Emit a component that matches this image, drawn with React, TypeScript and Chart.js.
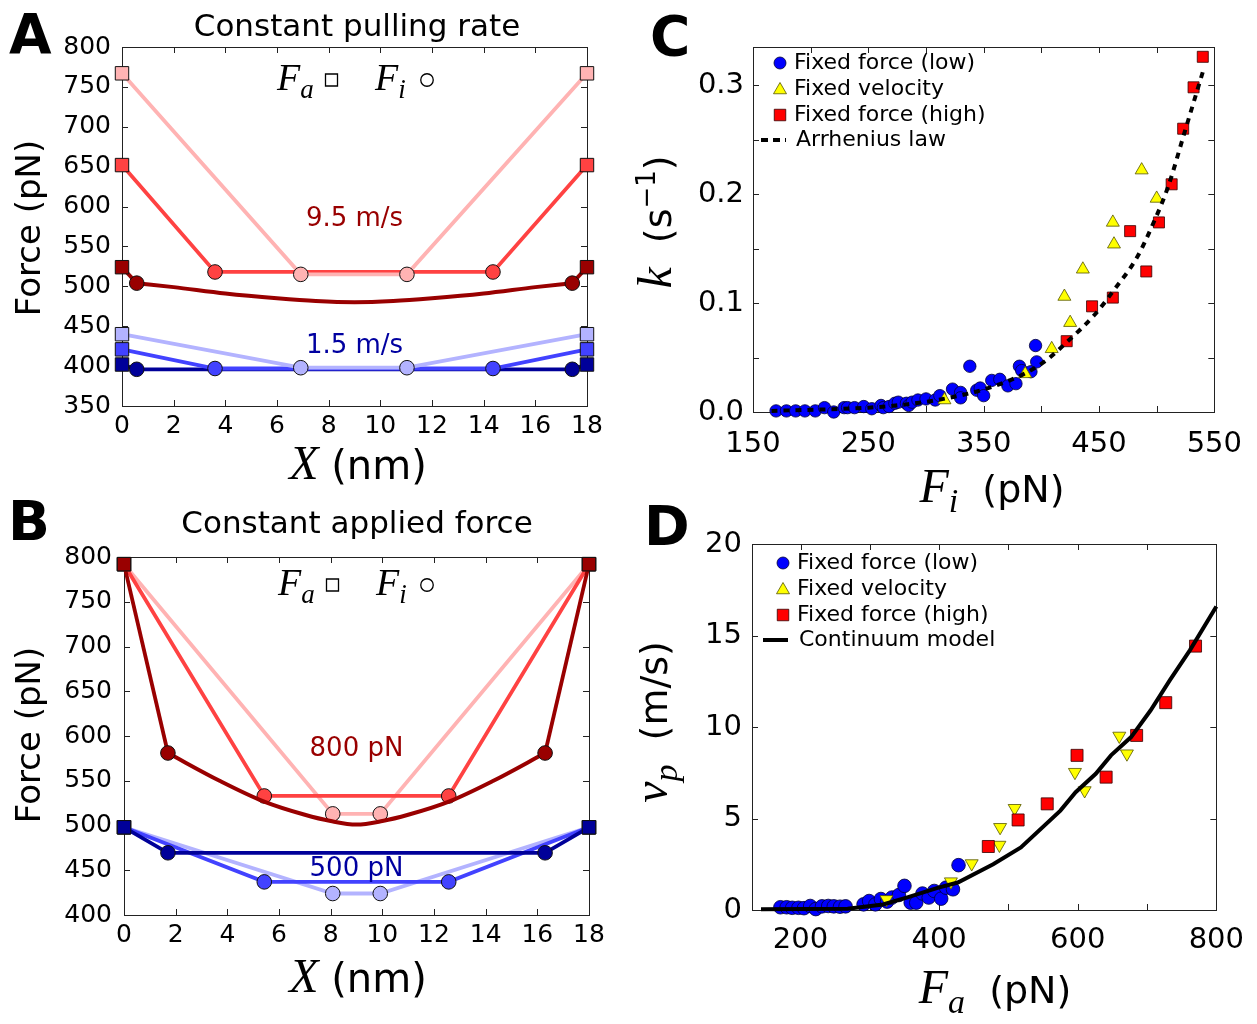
import React, { useEffect, useRef } from 'react';
import { Chart, registerables } from 'chart.js';
Chart.register(...registerables);

const SANS = "'DejaVu Sans', sans-serif";
const SERIF = "'Liberation Serif', 'DejaVu Serif', serif";

const PINK = '#ffb3b3';
const RED = '#ff4242';
const DARKRED = '#990000';
const LBLUE = '#b3b3ff';
const BLUE = '#4242ff';
const NAVY = '#000099';

// ---------------- Panel A: constant pulling rate ----------------
const aPinkX = [0, 6.92, 11.03, 18];
const aPinkF = [767, 515, 515, 767];
const aRedX = [0, 3.6, 14.36, 18];
const aRedF = [652, 518, 518, 652];
const aDarkX = [0, 0.57, 17.43, 18];
const aDarkF = [524, 504, 504, 524];
const aDarkCurveX = [0.57, 2, 4, 6, 7.5, 9, 10.5, 12, 14, 16, 17.43];
const aDarkCurveF = [504, 499, 491, 485, 481.5, 480, 481.5, 485, 491, 499, 504];
const aLightBlueX = [0, 6.92, 11.03, 18];
const aLightBlueF = [440, 398, 398, 440];
const aBlueX = [0, 3.6, 14.36, 18];
const aBlueF = [421, 397, 397, 421];
const aNavyX = [0, 0.57, 17.43, 18];
const aNavyF = [402, 396, 396, 402];

// ---------------- Panel B: constant applied force ----------------
const bPinkX = [0, 8.08, 9.92, 18];
const bPinkF = [792, 513, 513, 792];
const bRedX = [0, 5.43, 12.57, 18];
const bRedF = [792, 533, 533, 792];
const bDarkX = [0, 1.7, 16.3, 18];
const bDarkF = [792, 581, 581, 792];
const bDarkCurveX = [1.7, 3.7, 5.4, 7, 8, 9, 10, 11, 12.6, 14.3, 16.3];
const bDarkCurveF = [581, 550, 527, 512, 505, 501, 505, 512, 527, 550, 581];
const bLightBlueX = [0, 8.08, 9.92, 18];
const bLightBlueF = [498, 424, 424, 498];
const bBlueX = [0, 5.43, 12.57, 18];
const bBlueF = [498, 437, 437, 498];
const bNavyX = [0, 1.7, 16.3, 18];
const bNavyF = [498, 469.5, 469.5, 498];

// ---------------- Panel C: rate vs Fi ----------------
const cLowF = [170, 179, 187, 195, 204, 212, 220, 229, 232, 238, 246, 253, 261, 263, 268, 273, 276, 283, 285, 288, 293, 300, 308, 312, 323, 330, 330, 338, 344, 347, 350, 357, 364, 371, 378, 381, 383, 391, 395, 396];
const cLowK = [0.001, 0.001, 0.001, 0.001, 0.001, 0.004, 0.0, 0.004, 0.004, 0.004, 0.005, 0.003, 0.006, 0.004, 0.005, 0.008, 0.009, 0.008, 0.006, 0.009, 0.011, 0.012, 0.011, 0.015, 0.021, 0.018, 0.013, 0.042, 0.02, 0.022, 0.015, 0.029, 0.03, 0.024, 0.026, 0.042, 0.038, 0.037, 0.061, 0.046];
const cVelF = [316, 386, 409, 420, 425, 436, 462, 463, 487, 500];
const cVelK = [0.011, 0.035, 0.058, 0.106, 0.082, 0.131, 0.174, 0.154, 0.222, 0.196];
const cHighF = [422, 444, 462, 477, 491, 502, 513, 523, 532, 540];
const cHighK = [0.065, 0.097, 0.105, 0.166, 0.129, 0.174, 0.209, 0.26, 0.298, 0.326];
const cArrF = [166, 250, 283, 310, 351, 385, 405, 422, 446, 463, 483, 497, 510, 524, 540];
const cArrK = [0.001, 0.004, 0.007, 0.011, 0.021, 0.035, 0.048, 0.064, 0.089, 0.112, 0.142, 0.173, 0.207, 0.256, 0.312];

// ---------------- Panel D: velocity vs Fa ----------------
const dLowF = [171, 180, 188, 197, 205, 214, 222, 231, 240, 248, 257, 265, 291, 299, 308, 316, 325, 332, 342, 350, 359, 367, 376, 385, 393, 403, 410, 420, 428];
const dLowV = [0.15, 0.15, 0.12, 0.12, 0.1, 0.22, 0.05, 0.2, 0.22, 0.2, 0.18, 0.2, 0.31, 0.49, 0.31, 0.6, 0.46, 0.68, 0.82, 1.32, 0.4, 0.4, 0.9, 0.68, 1.04, 0.62, 1.22, 1.13, 2.45];
const dVelF = [324, 417, 447, 487, 488, 509, 596, 610, 660, 671];
const dVelV = [0.58, 1.55, 2.54, 3.55, 4.52, 5.56, 7.53, 6.53, 9.51, 8.54];
const dHighF = [471, 514, 556, 599, 641, 685, 727, 770];
const dHighV = [3.47, 4.92, 5.8, 8.45, 7.26, 9.54, 11.33, 14.42];
const dModelF = [143, 268, 319, 353, 399, 427, 478, 518, 575, 597, 626, 648, 677, 705, 733, 762, 800];
const dModelV = [0.04, 0.07, 0.3, 0.68, 1.22, 1.5, 2.5, 3.42, 5.43, 6.44, 7.44, 8.45, 9.45, 10.9, 12.56, 14.2, 16.58];

const legendLabels = ['Fixed force (low)', 'Fixed velocity', 'Fixed force (high)'];

type Seg = { t: string; f: string; dy?: number };

function drawRich(ctx: CanvasRenderingContext2D, segs: Seg[], x: number, y: number, align: 'left' | 'center' = 'left', color = '#000', rot = 0) {
  ctx.save();
  ctx.translate(x, y);
  if (rot) ctx.rotate(rot);
  ctx.fillStyle = color;
  ctx.textBaseline = 'alphabetic';
  ctx.textAlign = 'left';
  let w = 0;
  for (const s of segs) { ctx.font = s.f; w += ctx.measureText(s.t).width; }
  let cx = align === 'center' ? -w / 2 : 0;
  for (const s of segs) { ctx.font = s.f; ctx.fillText(s.t, cx, s.dy || 0); cx += ctx.measureText(s.t).width; }
  ctx.restore();
}

function marker(ctx: CanvasRenderingContext2D, kind: string, x: number, y: number, size: number, fill: string, stroke = '#111', lw = 1) {
  ctx.save();
  ctx.beginPath();
  if (kind === 'circle') ctx.arc(x, y, size / 2, 0, Math.PI * 2);
  else if (kind === 'square') ctx.rect(x - size / 2, y - size / 2, size, size);
  else {
    const h = size * Math.sqrt(3) / 2;
    ctx.moveTo(x, y - h * 2 / 3);
    ctx.lineTo(x + size / 2, y + h / 3);
    ctx.lineTo(x - size / 2, y + h / 3);
    ctx.closePath();
  }
  ctx.fillStyle = fill; ctx.fill();
  ctx.strokeStyle = stroke; ctx.lineWidth = lw; ctx.stroke();
  ctx.restore();
}

const frameTicks = {
  id: 'frameTicks',
  beforeDatasetsDraw(chart: any) {
    const { ctx, chartArea: a } = chart;
    const xs = chart.scales.x, ys = chart.scales.y;
    const L = 6;
    ctx.save();
    ctx.strokeStyle = '#222';
    ctx.lineWidth = 1;
    ctx.beginPath();
    for (const t of xs.ticks) {
      const p = Math.round(xs.getPixelForValue(t.value)) + 0.5;
      ctx.moveTo(p, a.bottom); ctx.lineTo(p, a.bottom - L);
      ctx.moveTo(p, a.top); ctx.lineTo(p, a.top + L);
    }
    for (const t of ys.ticks) {
      const p = Math.round(ys.getPixelForValue(t.value)) + 0.5;
      ctx.moveTo(a.left, p); ctx.lineTo(a.left + L, p);
      ctx.moveTo(a.right, p); ctx.lineTo(a.right - L, p);
    }
    ctx.stroke();
    ctx.strokeRect(Math.round(a.left) + 0.5, Math.round(a.top) + 0.5, Math.round(a.right - a.left), Math.round(a.bottom - a.top));
    ctx.restore();
  },
};

function pts(xs: number[], ys: number[]) { return xs.map((x, i) => ({ x, y: ys[i] })); }

const EDGE = ['rect', 'circle', 'circle', 'rect'];

function lineSet(xs: number[], ys: number[], color: string, extra: any = {}) {
  return {
    data: pts(xs, ys),
    borderColor: color,
    backgroundColor: color,
    borderWidth: 3.8,
    pointStyle: EDGE,
    pointRadius: EDGE.map((s) => (s === 'rect' ? 9.5 : 7.3)),
    pointBackgroundColor: color,
    pointBorderColor: '#111',
    pointBorderWidth: 1,
    tension: 0,
    clip: false,
    ...extra,
  };
}

function curveSet(xs: number[], ys: number[], color: string) {
  return {
    data: pts(xs, ys),
    borderColor: color,
    borderWidth: 4,
    pointRadius: 0,
    tension: 0.4,
    cubicInterpolationMode: 'monotone',
    clip: false,
  };
}

function gapSeg(color: string) {
  return { borderColor: (c: any) => (c.p0DataIndex === 1 ? 'rgba(0,0,0,0)' : color) };
}

function axis(min: number, max: number, step: number, size: number, pad: number, cb: (v: number) => string, fit: (s: any) => void) {
  return {
    type: 'linear',
    min, max,
    ticks: { stepSize: step, includeBounds: false, autoSkip: false, maxRotation: 0, minRotation: 0, padding: pad, color: '#000', font: { family: SANS, size }, callback: cb },
    grid: { display: false, drawTicks: false },
    border: { display: false },
    afterFit: fit,
  };
}

function baseConfig(type: string, datasets: any[], x: any, y: any, padding: any, deco: (c: any) => void) {
  return {
    type,
    data: { datasets },
    options: {
      animation: false,
      responsive: false,
      devicePixelRatio: 1,
      events: [],
      layout: { padding },
      plugins: { legend: { display: false }, tooltip: { enabled: false } },
      scales: { x, y },
    },
    plugins: [frameTicks, { id: 'deco', afterDraw: deco }],
  };
}

function keyFaFi(ctx: CanvasRenderingContext2D, f1: number, base: number, sq: number, f2: number, ci: number, my: number) {
  drawRich(ctx, [{ t: 'F', f: `italic 38px ${SERIF}` }, { t: 'a', f: `italic 27px ${SERIF}`, dy: 8 }], f1, base);
  marker(ctx, 'square', sq, my, 12, '#fff', '#000', 1.3);
  drawRich(ctx, [{ t: 'F', f: `italic 38px ${SERIF}` }, { t: 'i', f: `italic 27px ${SERIF}`, dy: 8 }], f2, base);
  marker(ctx, 'circle', ci, my, 12.5, '#fff', '#000', 1.3);
}

const xTitleSegs: Seg[] = [{ t: 'X', f: `italic 48px ${SERIF}` }, { t: ' (nm)', f: `40px ${SANS}` }];

// ---------- Panel A ----------
function buildA() {
  const W = 630, H = 500, L = 122, T = 47, R = 587, B = 406;
  const ds = [
    lineSet(aLightBlueX, aLightBlueF, LBLUE),
    lineSet(aBlueX, aBlueF, BLUE),
    lineSet(aNavyX, aNavyF, NAVY),
    lineSet(aPinkX, aPinkF, PINK),
    lineSet(aRedX, aRedF, RED),
    lineSet(aDarkX, aDarkF, DARKRED, { segment: gapSeg(DARKRED) }),
    curveSet(aDarkCurveX, aDarkCurveF, DARKRED),
  ];
  const deco = (chart: any) => {
    const ctx = chart.ctx, xs = chart.scales.x, ys = chart.scales.y;
    drawRich(ctx, [{ t: 'A', f: `bold 55px ${SANS}` }], 9, 53);
    drawRich(ctx, [{ t: 'Constant pulling rate', f: `31px ${SANS}` }], 357, 36, 'center');
    drawRich(ctx, [{ t: 'Force (pN)', f: `34px ${SANS}` }], 40, 228, 'center', '#000', -Math.PI / 2);
    drawRich(ctx, xTitleSegs, 358, 479, 'center');
    drawRich(ctx, [{ t: '9.5 m/s', f: `26px ${SANS}` }], xs.getPixelForValue(9), ys.getPixelForValue(576), 'center', DARKRED);
    drawRich(ctx, [{ t: '1.5 m/s', f: `26px ${SANS}` }], xs.getPixelForValue(9), ys.getPixelForValue(416.5), 'center', '#0000a0');
    keyFaFi(ctx, 277, 90, 331.5, 375, 427, 80);
  };
  return baseConfig('line', ds,
    axis(0, 18, 2, 25, 5, (v) => String(v), (s) => { s.height = H - B; }),
    axis(350, 800, 50, 25, 11, (v) => String(v), (s) => { s.width = L; }),
    { left: 0, top: T, right: W - R, bottom: 0 }, deco);
}

// ---------- Panel B (canvas top at page y = 490) ----------
function buildB() {
  const W = 630, H = 534, L = 124, T = 67, R = 589, B = 425;
  const ds = [
    lineSet(bNavyX, bNavyF, NAVY),
    lineSet(bBlueX, bBlueF, BLUE),
    lineSet(bLightBlueX, bLightBlueF, LBLUE),
    lineSet(bDarkX, bDarkF, DARKRED, { segment: gapSeg(DARKRED) }),
    curveSet(bDarkCurveX, bDarkCurveF, DARKRED),
    lineSet(bRedX, bRedF, RED),
    lineSet(bPinkX, bPinkF, PINK),
  ];
  const deco = (chart: any) => {
    const ctx = chart.ctx, xs = chart.scales.x, ys = chart.scales.y;
    drawRich(ctx, [{ t: 'B', f: `bold 55px ${SANS}` }], 8, 50);
    drawRich(ctx, [{ t: 'Constant applied force', f: `31px ${SANS}` }], 357, 43, 'center');
    drawRich(ctx, [{ t: 'Force (pN)', f: `34px ${SANS}` }], 40, 245, 'center', '#000', -Math.PI / 2);
    drawRich(ctx, xTitleSegs, 358, 502, 'center');
    drawRich(ctx, [{ t: '800 pN', f: `26px ${SANS}` }], xs.getPixelForValue(9), ys.getPixelForValue(577.7), 'center', DARKRED);
    drawRich(ctx, [{ t: '500 pN', f: `26px ${SANS}` }], xs.getPixelForValue(9), ys.getPixelForValue(443.6), 'center', '#0000a0');
    keyFaFi(ctx, 278, 105, 332.5, 376, 427, 95);
  };
  return baseConfig('line', ds,
    axis(0, 18, 2, 25, 5, (v) => String(v), (s) => { s.height = H - B; }),
    axis(400, 800, 50, 25, 12, (v) => String(v), (s) => { s.width = L; }),
    { left: 0, top: T, right: W - R, bottom: 0 }, deco);
}

function scatterSet(xs: number[], ys: number[], style: string, r: number, fill: string, edge: string, extra: any = {}) {
  return {
    data: pts(xs, ys),
    showLine: false,
    pointStyle: style,
    pointRadius: r,
    backgroundColor: fill,
    pointBackgroundColor: fill,
    pointBorderColor: edge,
    pointBorderWidth: 0.8,
    clip: false,
    ...extra,
  };
}

// ---------- Panel C ----------
function buildC() {
  const W = 627, H = 525, L = 123, T = 47, R = 594, B = 412;
  const ds = [
    { data: pts(cArrF, cArrK), showLine: true, borderColor: '#000', borderWidth: 4, borderDash: [6, 6], pointRadius: 0, tension: 0.4, cubicInterpolationMode: 'monotone', clip: false },
    scatterSet(cHighF, cHighK, 'rect', 7.8, '#ff0000', '#330000'),
    scatterSet(cVelF, cVelK, 'triangle', 7.5, '#ffff00', '#555500'),
    scatterSet(cLowF, cLowK, 'circle', 6.2, '#0000ff', '#000033'),
  ];
  const deco = (chart: any) => {
    const ctx = chart.ctx;
    drawRich(ctx, [{ t: 'C', f: `bold 55px ${SANS}` }], 20, 55);
    drawRich(ctx, [
      { t: 'k', f: `italic 48px ${SERIF}` },
      { t: '  (s', f: `38px ${SANS}` },
      { t: '\u22121', f: `26px ${SANS}`, dy: -16 },
      { t: ')', f: `38px ${SANS}` },
    ], 41, 222, 'center', '#000', -Math.PI / 2);
    drawRich(ctx, [
      { t: 'F', f: `italic 48px ${SERIF}` },
      { t: 'i', f: `italic 34px ${SERIF}`, dy: 10 },
      { t: '  (pN)', f: `38px ${SANS}` },
    ], 362, 502, 'center');
    const rows = [63, 89, 115, 140];
    marker(ctx, 'circle', 150, rows[0], 12, '#0000ff', '#000033', 0.8);
    marker(ctx, 'triangle', 150, rows[1] + 1, 13, '#ffff00', '#555500', 0.8);
    marker(ctx, 'square', 150, rows[2], 11.5, '#ff0000', '#330000', 0.8);
    ctx.save();
    ctx.strokeStyle = '#000'; ctx.lineWidth = 4; ctx.setLineDash([7, 5]);
    ctx.beginPath(); ctx.moveTo(131, rows[3]); ctx.lineTo(156, rows[3]); ctx.stroke();
    ctx.restore();
    ctx.save();
    ctx.fillStyle = '#000'; ctx.font = `22px ${SANS}`; ctx.textBaseline = 'middle';
    legendLabels.forEach((s, i) => ctx.fillText(s, 164, rows[i]));
    ctx.fillText('Arrhenius law', 166, rows[3]);
    ctx.restore();
  };
  return baseConfig('scatter', ds,
    axis(150, 550, 50, 29, 15, (v) => ((v - 150) % 100 === 0 ? String(v) : ''), (s) => { s.height = H - B; }),
    axis(0, 0.335, 0.05, 29, 9, (v) => (Math.abs(v * 10 - Math.round(v * 10)) < 1e-6 ? v.toFixed(1) : ''), (s) => { s.width = L; }),
    { left: 0, top: T, right: W - R, bottom: 0 }, deco);
}

// ---------- Panel D (canvas top at page y = 495) ----------
function buildD() {
  const W = 627, H = 529, L = 122, T = 49, R = 595, B = 415;
  const ds = [
    { data: pts(dModelF, dModelV), showLine: true, borderColor: '#000', borderWidth: 4, pointRadius: 0, tension: 0, clip: false },
    scatterSet(dHighF, dHighV, 'rect', 8.5, '#ff0000', '#330000'),
    scatterSet(dVelF, dVelV, 'triangle', 7.5, '#ffff00', '#555500', { rotation: 180 }),
    scatterSet(dLowF, dLowV, 'circle', 6.8, '#0000ff', '#000033'),
  ];
  const deco = (chart: any) => {
    const ctx = chart.ctx;
    drawRich(ctx, [{ t: 'D', f: `bold 55px ${SANS}` }], 14, 50);
    drawRich(ctx, [
      { t: 'v', f: `italic 48px ${SERIF}` },
      { t: 'p', f: `italic 34px ${SERIF}`, dy: 10 },
      { t: '  (m/s)', f: `38px ${SANS}` },
    ], 37, 227, 'center', '#000', -Math.PI / 2);
    drawRich(ctx, [
      { t: 'F', f: `italic 48px ${SERIF}` },
      { t: 'a', f: `italic 34px ${SERIF}`, dy: 10 },
      { t: '  (pN)', f: `38px ${SANS}` },
    ], 365, 508, 'center');
    const rows = [68, 94, 120, 145];
    marker(ctx, 'circle', 153, rows[0], 12, '#0000ff', '#000033', 0.8);
    marker(ctx, 'triangle', 153, rows[1] + 1, 13, '#ffff00', '#555500', 0.8);
    marker(ctx, 'square', 153, rows[2], 11.5, '#ff0000', '#330000', 0.8);
    ctx.save();
    ctx.strokeStyle = '#000'; ctx.lineWidth = 4;
    ctx.beginPath(); ctx.moveTo(133, rows[3]); ctx.lineTo(158, rows[3]); ctx.stroke();
    ctx.fillStyle = '#000'; ctx.font = `22px ${SANS}`; ctx.textBaseline = 'middle';
    legendLabels.forEach((s, i) => ctx.fillText(s, 167, rows[i]));
    ctx.fillText('Continuum model', 169, rows[3]);
    ctx.restore();
  };
  return baseConfig('scatter', ds,
    axis(130, 800, 100, 29, 13, (v) => (v % 200 === 0 ? String(v) : ''), (s) => { s.height = H - B; }),
    axis(0, 20, 5, 29, 10, (v) => String(v), (s) => { s.width = L; }),
    { left: 0, top: T, right: W - R, bottom: 0 }, deco);
}

function ChartBox({ left, top, width, height, build }: { left: number; top: number; width: number; height: number; build: () => any }) {
  const ref = useRef<HTMLCanvasElement>(null);
  useEffect(() => {
    const chart = new Chart(ref.current as HTMLCanvasElement, build() as any);
    return () => chart.destroy();
  }, []);
  return <canvas ref={ref} width={width} height={height} style={{ position: 'absolute', left, top, width, height, display: 'block' }} />;
}

export default function App() {
  return (
    <div style={{ position: 'absolute', left: 0, top: 0, width: 1257, height: 1024, background: '#fff', overflow: 'hidden' }}>
      <ChartBox left={0} top={0} width={630} height={500} build={buildA} />
      <ChartBox left={0} top={490} width={630} height={534} build={buildB} />
      <ChartBox left={630} top={0} width={627} height={525} build={buildC} />
      <ChartBox left={630} top={495} width={627} height={529} build={buildD} />
    </div>
  );
}
